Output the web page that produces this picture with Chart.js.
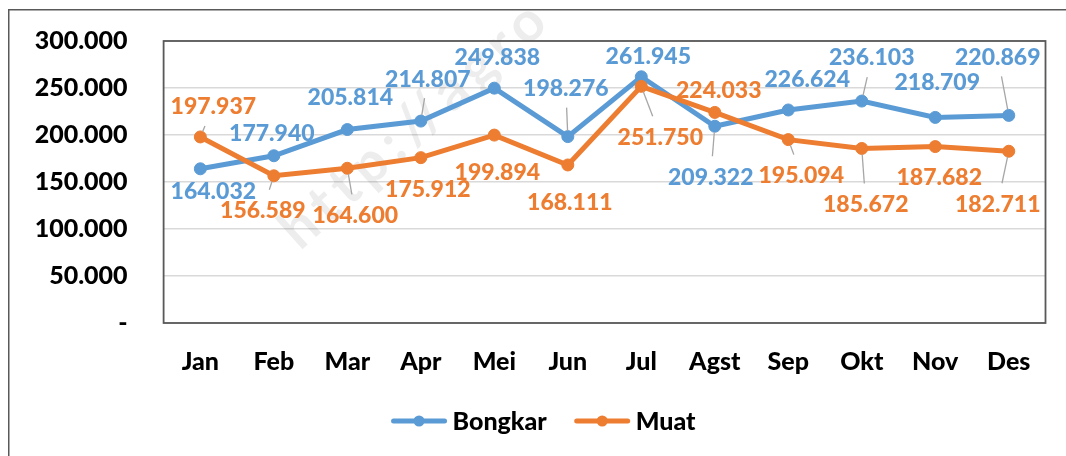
<!DOCTYPE html>
<html><head><meta charset="utf-8">
<script src="https://cdn.jsdelivr.net/npm/chart.js@4.4.0/dist/chart.umd.min.js"></script>
<style>html,body{margin:0;padding:0;background:#fff;}#wrap{width:1066px;height:456px;position:relative;}</style>
</head><body><div id="wrap"><canvas id="c" width="1066" height="456"></canvas></div>
<script>
const categories = ['Jan','Feb','Mar','Apr','Mei','Jun','Jul','Agst','Sep','Okt','Nov','Des'];
const bongkar = [164032,177940,205814,214807,249838,198276,261945,209322,226624,236103,218709,220869];
const muat = [197937,156589,164600,175912,199894,168111,251750,224033,195094,185672,187682,182711];
const yTicks = [0,50000,100000,150000,200000,250000,300000];
const seriesNames = ['Bongkar','Muat'];

const BLUE = '#5B9BD5', ORANGE = '#ED7D31';
const FONT = 'Lato, "Open Sans", sans-serif';
const W = 900;

function fmt(v){ return v === 0 ? '-' : String(v).replace(/\B(?=(\d{3})+(?!\d))/g,'.'); }

// label placement (pixel offsets from the point, and whether a leader line is drawn)
const labelPlacement = [
  [[13,22,0],[-2,-23,0],[3,-33,0],[7,-43,1],[3,-32,0],[-2,-49,1],[7,-21,0],[-4,50,1],[19,-31,0],[10,-44,1],[2,-36,0],[-11,-59,1]],
  [[13,-31,1],[-11,34,1],[8,46,1],[7,31,0],[3,36,0],[2,37,0],[19,50,1],[4,-23,0],[13,35,1],[4,55,1],[4,30,0],[-11,52,1]]
];

const framePlugin = {
  id:'frame',
  beforeDraw(chart){
    const c = chart.ctx;
    c.save();
    c.fillStyle = '#fff'; c.fillRect(0,0,chart.width,chart.height);
    c.strokeStyle = '#595959'; c.lineWidth = 1.5;
    c.strokeRect(8.75, 9.75, chart.width+10, chart.height+10);
    c.restore();
  },
  beforeDatasetsDraw(chart){
    const c = chart.ctx, a = chart.chartArea;
    c.save();
    c.translate(288, 238);
    c.rotate(-42*Math.PI/180);
    c.font = 'bold 56px ' + FONT;
    try { c.letterSpacing = '7px'; } catch(e) {}
    c.fillStyle = 'rgba(0,0,0,0.07)';
    c.textBaseline = 'middle';
    c.fillText('http://agro', 0, 0);
    c.restore();
    c.save();
    c.strokeStyle = '#595959'; c.lineWidth = 1.8;
    c.strokeRect(a.left, a.top, a.right-a.left, a.bottom-a.top);
    c.restore();
  }
};

const labelPlugin = {
  id:'dlabels',
  afterDatasetsDraw(chart){
    const c = chart.ctx;
    c.save();
    c.font = W + ' 23px ' + FONT;
    c.textAlign = 'center'; c.textBaseline = 'middle';
    chart.data.datasets.forEach((ds, di) => {
      const meta = chart.getDatasetMeta(di);
      meta.data.forEach((pt, i) => {
        const [dx, dy, lead] = labelPlacement[di][i];
        const cx = pt.x + dx, cy = pt.y + dy;
        const txt = fmt(ds.data[i]);
        if (lead) {
          const len = Math.hypot(dx, dy);
          const ux = dx/len, uy = dy/len;
          const hw = c.measureText(txt).width/2 + 6, hh = 20;
          const s = Math.min(Math.abs(ux) > 1e-6 ? hw/Math.abs(ux) : 1e9, Math.abs(uy) > 1e-6 ? hh/Math.abs(uy) : 1e9);
          const ex = cx - ux*s, ey = cy - uy*s;
          const sx = pt.x + ux*6, sy = pt.y + uy*6;
          if (len - s > 8) {
            c.strokeStyle = '#A6A6A6'; c.lineWidth = 1.3;
            c.beginPath(); c.moveTo(sx, sy); c.lineTo(ex, ey); c.stroke();
          }
        }
        c.fillStyle = ds.borderColor;
        c.fillText(txt, cx, cy + 1);
      });
    });
    c.restore();
  }
};

const legendPlugin = {
  id:'mylegend',
  afterDraw(chart){
    const c = chart.ctx;
    c.save();
    c.font = W + ' 25px ' + FONT;
    c.textBaseline = 'middle';
    const lineLen = 55, gapLT = 6, gapItems = 28;
    const items = chart.data.datasets.map(ds => ({label: ds.label, color: ds.borderColor, w: c.measureText(ds.label).width}));
    let total = 0;
    items.forEach((it, k) => { total += lineLen + gapLT + it.w + (k < items.length-1 ? gapItems : 0); });
    let x = 543.5 - total/2;
    const y = 421;
    items.forEach(it => {
      c.strokeStyle = it.color; c.lineWidth = 5; c.lineCap = 'round';
      c.beginPath(); c.moveTo(x+2, y); c.lineTo(x+lineLen-2, y); c.stroke();
      c.fillStyle = it.color;
      c.beginPath(); c.arc(x+lineLen/2, y, 5.5, 0, Math.PI*2); c.fill();
      c.fillStyle = '#000';
      c.fillText(it.label, x + lineLen + gapLT, y + 1);
      x += lineLen + gapLT + it.w + gapItems;
    });
    c.restore();
  }
};

function draw(){
  new Chart(document.getElementById('c'), {
    type:'line',
    data:{
      labels: categories,
      datasets:[
        {label: seriesNames[0], data: bongkar, borderColor: BLUE, backgroundColor: BLUE, pointBackgroundColor: BLUE, pointBorderColor: BLUE, borderWidth:5, pointRadius:6, pointBorderWidth:1, tension:0, order:1},
        {label: seriesNames[1], data: muat, borderColor: ORANGE, backgroundColor: ORANGE, pointBackgroundColor: ORANGE, pointBorderColor: ORANGE, borderWidth:5, pointRadius:6, pointBorderWidth:1, tension:0, order:0}
      ]
    },
    options:{
      responsive:false, animation:false, devicePixelRatio:1,
      layout:{padding:{left:0, top:41, right:20.5, bottom:0}},
      plugins:{legend:{display:false}, tooltip:{enabled:false}},
      scales:{
        x:{
          offset:true,
          grid:{display:false, drawTicks:false},
          border:{display:false},
          ticks:{font:{family:FONT, size:25, weight:W}, color:'#000', padding:24, maxRotation:0, autoSkip:false},
          afterFit(s){ s.height = 133; s.paddingLeft = 0; s.paddingRight = 0; }
        },
        y:{
          min:0, max:300000,
          afterBuildTicks(s){ s.ticks = yTicks.map(v => ({value:v})); },
          grid:{color:'#D9D9D9', lineWidth:1.5, drawTicks:false},
          border:{display:false},
          ticks:{font:{family:FONT, size:25, weight:W}, color:'#000', padding:36, callback:(v)=>fmt(v)},
          afterFit(s){ s.width = 163.6; s.paddingTop = 0; s.paddingBottom = 0; }
        }
      }
    },
    plugins:[framePlugin, labelPlugin, legendPlugin]
  });
}
if (document.fonts && document.fonts.load) {
  Promise.all([document.fonts.load(W + ' 25px Lato'), document.fonts.load('bold 56px Lato')]).then(draw, draw);
} else draw();
</script>
</body></html>
